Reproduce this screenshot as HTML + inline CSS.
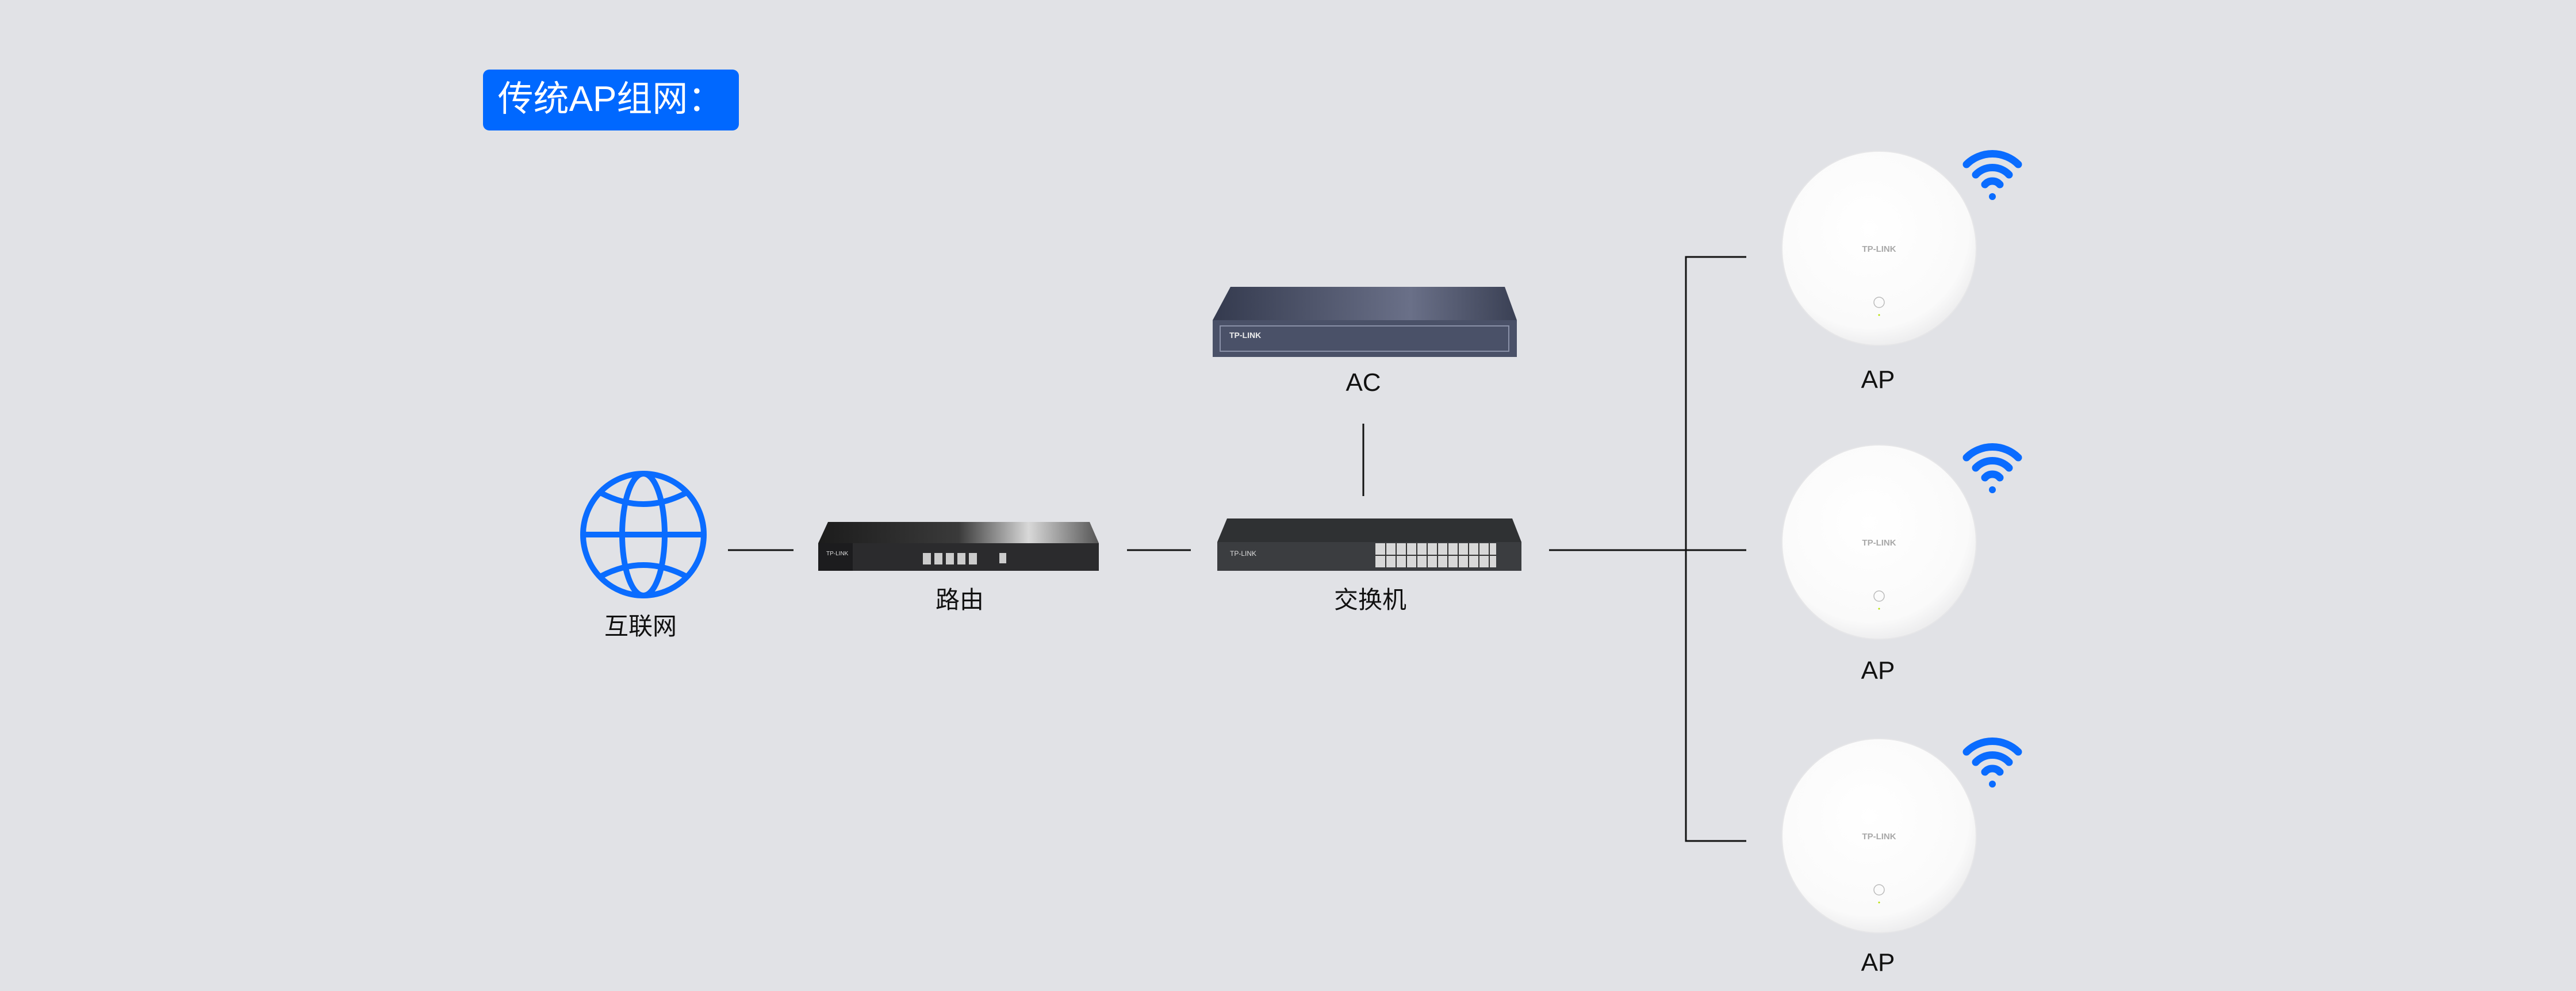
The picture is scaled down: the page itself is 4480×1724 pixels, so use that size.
<!DOCTYPE html>
<html><head><meta charset="utf-8"><style>
html,body{margin:0;padding:0;}
body{width:4480px;height:1724px;background:#e1e2e6;overflow:hidden;position:relative;font-family:"Liberation Sans","Noto Sans CJK SC",sans-serif;}
svg{position:absolute;left:0;top:0;}
</style></head><body>
<svg width="4480" height="1724" viewBox="0 0 4480 1724" xmlns="http://www.w3.org/2000/svg">
<defs>
<linearGradient id="rt" x1="0" x2="1" y1="0" y2="0"><stop offset="0" stop-color="#1c1c1c"/><stop offset="0.5" stop-color="#3a3a3a"/><stop offset="0.75" stop-color="#d8d8d8"/><stop offset="1" stop-color="#555"/></linearGradient>
<linearGradient id="act" x1="0" x2="1"><stop offset="0" stop-color="#343a4e"/><stop offset="0.65" stop-color="#6a7088"/><stop offset="1" stop-color="#3a4054"/></linearGradient>
<radialGradient id="apg" cx="0.45" cy="0.4" r="0.6"><stop offset="0" stop-color="#ffffff"/><stop offset="0.85" stop-color="#fafafa"/><stop offset="1" stop-color="#eeeeef"/></radialGradient>
<g id="wifi" fill="none" stroke="#0a6cff" stroke-width="13" stroke-linecap="round">
<path d="M-45,-26 A64,64 0 0 1 45,-26"/><path d="M-29,-8 A40,40 0 0 1 29,-8"/><path d="M-13,9 A17,17 0 0 1 13,9"/>
<circle cx="0" cy="30" r="6" fill="#0a6cff" stroke="none"/></g>
<g id="ap"><circle r="169" fill="url(#apg)" stroke="#e6e6e8" stroke-width="2"/>
<text x="0" y="6" text-anchor="middle" font-size="15" font-weight="bold" fill="#a8a8a8">TP-LINK</text>
<circle cx="0" cy="94" r="9" fill="none" stroke="#bbb" stroke-width="1.5"/><circle cx="0" cy="116" r="1.5" fill="#b5e000"/></g>
</defs>
<rect x="840" y="121" width="445" height="106" rx="11" fill="#0068ff"/>
<text x="1062" y="193" text-anchor="middle" font-size="62" fill="#fff">传统AP组网：</text>
<g stroke="#111" stroke-width="3" fill="none">
<line x1="1266" y1="957" x2="1380" y2="957"/>
<line x1="1960" y1="957" x2="2071" y2="957"/>
<line x1="2694" y1="957" x2="3037" y2="957"/>
<line x1="2371" y1="737" x2="2371" y2="863"/>
<polyline points="3037,447 2932,447 2932,1463 3037,1463"/>
</g>
<g fill="none" stroke="#0a6cff" stroke-width="10">
<ellipse cx="1119" cy="930" rx="105" ry="106"/>
<ellipse cx="1119" cy="930" rx="37" ry="106"/>
<line x1="1014" y1="930" x2="1224" y2="930"/>
<path d="M1046,858 Q1119,896 1192,858"/><path d="M1046,1002 Q1119,964 1192,1002"/>
</g>
<text x="1114" y="1104" text-anchor="middle" font-size="42" fill="#111">互联网</text>
<polygon points="1440,908 1895,908 1911,945 1423,945" fill="url(#rt)"/>
<rect x="1423" y="945" width="488" height="48" fill="#2b2b2d"/>
<rect x="1423" y="945" width="60" height="48" fill="#1c1c1e"/>
<text x="1437" y="966" font-size="10" fill="#ddd">TP-LINK</text>
<g fill="#ccc"><rect x="1605" y="962" width="14" height="20"/><rect x="1625" y="962" width="14" height="20"/><rect x="1645" y="962" width="14" height="20"/><rect x="1665" y="962" width="14" height="20"/><rect x="1685" y="962" width="14" height="20"/><rect x="1738" y="962" width="12" height="18"/></g>
<text x="1669" y="1058" text-anchor="middle" font-size="42" fill="#111">路由</text>
<polygon points="2134,902 2630,902 2646,943 2117,943" fill="#2f3133"/>
<rect x="2117" y="943" width="529" height="50" fill="#3b3d40"/>
<text x="2139" y="967" font-size="12" fill="#ddd">TP-LINK</text>
<rect x="2392" y="945" width="210" height="42" fill="#d8d8d8"/>
<g stroke="#333" stroke-width="2">
<line x1="2392" y1="966" x2="2602" y2="966"/>
<line x1="2410" y1="945" x2="2410" y2="987"/><line x1="2428" y1="945" x2="2428" y2="987"/><line x1="2446" y1="945" x2="2446" y2="987"/><line x1="2464" y1="945" x2="2464" y2="987"/><line x1="2482" y1="945" x2="2482" y2="987"/><line x1="2500" y1="945" x2="2500" y2="987"/><line x1="2518" y1="945" x2="2518" y2="987"/><line x1="2536" y1="945" x2="2536" y2="987"/><line x1="2554" y1="945" x2="2554" y2="987"/><line x1="2572" y1="945" x2="2572" y2="987"/><line x1="2590" y1="945" x2="2590" y2="987"/>
</g>
<text x="2383" y="1058" text-anchor="middle" font-size="42" fill="#111">交换机</text>
<polygon points="2140,499 2617,499 2638,557 2109,557" fill="url(#act)"/>
<rect x="2109" y="557" width="529" height="64" fill="#4a5168"/>
<rect x="2122" y="567" width="502" height="44" fill="none" stroke="#8a91a8" stroke-width="2"/>
<text x="2138" y="588" font-size="14" font-weight="bold" fill="#eee">TP-LINK</text>
<text x="2371" y="680" text-anchor="middle" font-size="44" fill="#111">AC</text>
<use href="#ap" x="3268" y="432"/>
<use href="#ap" x="3268" y="943"/>
<use href="#ap" x="3268" y="1454"/>
<use href="#wifi" x="3465" y="312"/>
<use href="#wifi" x="3465" y="822"/>
<use href="#wifi" x="3465" y="1334"/>
<text x="3266" y="675" text-anchor="middle" font-size="44" fill="#111">AP</text>
<text x="3266" y="1181" text-anchor="middle" font-size="44" fill="#111">AP</text>
<text x="3266" y="1689" text-anchor="middle" font-size="44" fill="#111">AP</text>
</svg>
</body></html>
